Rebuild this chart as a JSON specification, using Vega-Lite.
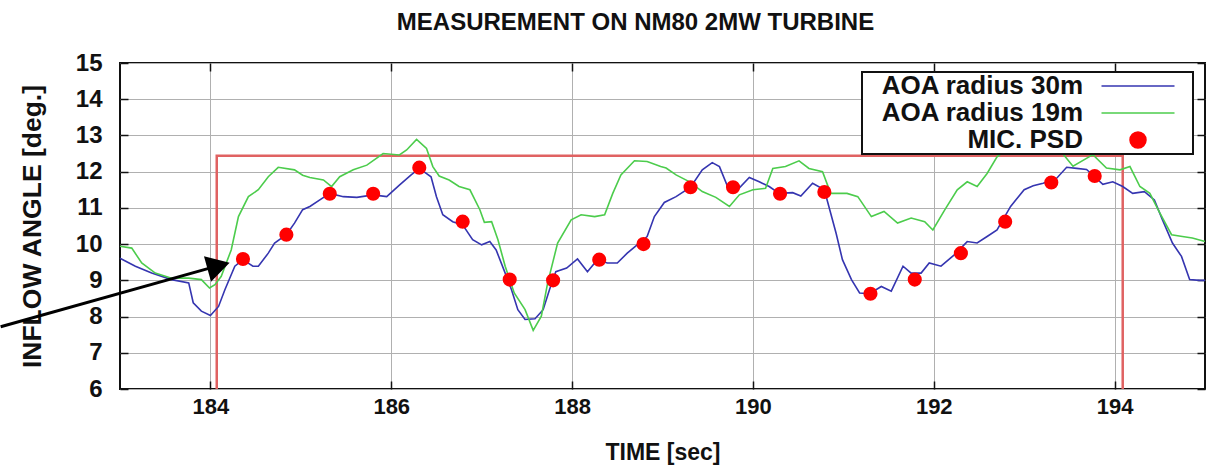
{
  "$schema": "https://vega.github.io/schema/vega-lite/v6.json",
  "width": 1085,
  "height": 326,
  "autosize": {"type": "none"},
  "padding": {"left": 120, "top": 63, "right": 11, "bottom": 80},
  "background": "white",
  "title": {"text": "MEASUREMENT ON NM80 2MW TURBINE", "font": "Liberation Sans", "fontSize": 24, "fontWeight": "bold", "color": "#111", "offset": 16, "dx": -27},
  "config": {
    "view": {"stroke": "#111", "strokeWidth": 2},
    "axis": {"labelFont": "Liberation Sans", "labelFontWeight": "bold", "labelFontSize": 22, "labelColor": "#111", "titleFont": "Liberation Sans", "titleFontWeight": "bold", "titleColor": "#111", "domain": false, "tickColor": "#111", "tickWidth": 1.5, "gridColor": "#b0b0b0", "gridWidth": 1}
  },
  "datasets": {
    "box": [{"o": 1, "t": 184.07, "v": 6}, {"o": 2, "t": 184.07, "v": 12.44}, {"o": 3, "t": 194.09, "v": 12.44}, {"o": 4, "t": 194.09, "v": 6}],
    "arrow": [{"t": 181.68, "v": 7.72}, {"t": 184.08, "v": 9.4}],
    "head": [{"t": 184.09, "v": 9.4}],
    "psd": [
      {"series": "MIC. PSD", "t": 184.36, "v": 9.59}, {"series": "MIC. PSD", "t": 184.84, "v": 10.26},
      {"series": "MIC. PSD", "t": 185.32, "v": 11.39}, {"series": "MIC. PSD", "t": 185.8, "v": 11.39},
      {"series": "MIC. PSD", "t": 186.31, "v": 12.11}, {"series": "MIC. PSD", "t": 186.79, "v": 10.62},
      {"series": "MIC. PSD", "t": 187.31, "v": 9.02}, {"series": "MIC. PSD", "t": 187.79, "v": 9.0},
      {"series": "MIC. PSD", "t": 188.3, "v": 9.57}, {"series": "MIC. PSD", "t": 188.79, "v": 10.0},
      {"series": "MIC. PSD", "t": 189.31, "v": 11.57}, {"series": "MIC. PSD", "t": 189.78, "v": 11.57},
      {"series": "MIC. PSD", "t": 190.3, "v": 11.39}, {"series": "MIC. PSD", "t": 190.79, "v": 11.44},
      {"series": "MIC. PSD", "t": 191.3, "v": 8.63}, {"series": "MIC. PSD", "t": 191.79, "v": 9.02},
      {"series": "MIC. PSD", "t": 192.3, "v": 9.75}, {"series": "MIC. PSD", "t": 192.79, "v": 10.62},
      {"series": "MIC. PSD", "t": 193.3, "v": 11.7}, {"series": "MIC. PSD", "t": 193.78, "v": 11.88}
    ],
    "lines": [
      {"series": "AOA radius 30m", "t": 183.0, "v": 9.61}, {"series": "AOA radius 30m", "t": 183.17, "v": 9.39},
      {"series": "AOA radius 30m", "t": 183.35, "v": 9.2}, {"series": "AOA radius 30m", "t": 183.57, "v": 9.02},
      {"series": "AOA radius 30m", "t": 183.76, "v": 8.93}, {"series": "AOA radius 30m", "t": 183.81, "v": 8.38},
      {"series": "AOA radius 30m", "t": 183.9, "v": 8.15}, {"series": "AOA radius 30m", "t": 184.0, "v": 8.03},
      {"series": "AOA radius 30m", "t": 184.09, "v": 8.28}, {"series": "AOA radius 30m", "t": 184.16, "v": 8.74},
      {"series": "AOA radius 30m", "t": 184.27, "v": 9.39}, {"series": "AOA radius 30m", "t": 184.36, "v": 9.57},
      {"series": "AOA radius 30m", "t": 184.47, "v": 9.39}, {"series": "AOA radius 30m", "t": 184.53, "v": 9.39},
      {"series": "AOA radius 30m", "t": 184.64, "v": 9.75}, {"series": "AOA radius 30m", "t": 184.71, "v": 10.03},
      {"series": "AOA radius 30m", "t": 184.84, "v": 10.26}, {"series": "AOA radius 30m", "t": 184.93, "v": 10.58},
      {"series": "AOA radius 30m", "t": 185.02, "v": 10.95}, {"series": "AOA radius 30m", "t": 185.1, "v": 11.04},
      {"series": "AOA radius 30m", "t": 185.21, "v": 11.22}, {"series": "AOA radius 30m", "t": 185.32, "v": 11.4},
      {"series": "AOA radius 30m", "t": 185.47, "v": 11.31}, {"series": "AOA radius 30m", "t": 185.62, "v": 11.29},
      {"series": "AOA radius 30m", "t": 185.8, "v": 11.36}, {"series": "AOA radius 30m", "t": 185.95, "v": 11.31},
      {"series": "AOA radius 30m", "t": 186.09, "v": 11.63}, {"series": "AOA radius 30m", "t": 186.22, "v": 11.91},
      {"series": "AOA radius 30m", "t": 186.31, "v": 12.09}, {"series": "AOA radius 30m", "t": 186.44, "v": 11.86},
      {"series": "AOA radius 30m", "t": 186.5, "v": 11.31}, {"series": "AOA radius 30m", "t": 186.57, "v": 10.81},
      {"series": "AOA radius 30m", "t": 186.68, "v": 10.62}, {"series": "AOA radius 30m", "t": 186.79, "v": 10.53},
      {"series": "AOA radius 30m", "t": 186.9, "v": 10.12}, {"series": "AOA radius 30m", "t": 187.0, "v": 9.98},
      {"series": "AOA radius 30m", "t": 187.09, "v": 10.07}, {"series": "AOA radius 30m", "t": 187.16, "v": 9.84},
      {"series": "AOA radius 30m", "t": 187.26, "v": 9.2}, {"series": "AOA radius 30m", "t": 187.33, "v": 8.74},
      {"series": "AOA radius 30m", "t": 187.4, "v": 8.19}, {"series": "AOA radius 30m", "t": 187.48, "v": 7.92},
      {"series": "AOA radius 30m", "t": 187.59, "v": 7.94}, {"series": "AOA radius 30m", "t": 187.68, "v": 8.19},
      {"series": "AOA radius 30m", "t": 187.75, "v": 8.74}, {"series": "AOA radius 30m", "t": 187.82, "v": 9.24},
      {"series": "AOA radius 30m", "t": 187.94, "v": 9.34}, {"series": "AOA radius 30m", "t": 188.06, "v": 9.59},
      {"series": "AOA radius 30m", "t": 188.17, "v": 9.24}, {"series": "AOA radius 30m", "t": 188.28, "v": 9.57},
      {"series": "AOA radius 30m", "t": 188.39, "v": 9.48}, {"series": "AOA radius 30m", "t": 188.5, "v": 9.48},
      {"series": "AOA radius 30m", "t": 188.61, "v": 9.75}, {"series": "AOA radius 30m", "t": 188.72, "v": 9.98},
      {"series": "AOA radius 30m", "t": 188.83, "v": 10.21}, {"series": "AOA radius 30m", "t": 188.91, "v": 10.76},
      {"series": "AOA radius 30m", "t": 189.02, "v": 11.15}, {"series": "AOA radius 30m", "t": 189.15, "v": 11.31},
      {"series": "AOA radius 30m", "t": 189.31, "v": 11.57}, {"series": "AOA radius 30m", "t": 189.44, "v": 12.05},
      {"series": "AOA radius 30m", "t": 189.55, "v": 12.25}, {"series": "AOA radius 30m", "t": 189.63, "v": 12.14},
      {"series": "AOA radius 30m", "t": 189.72, "v": 11.59}, {"series": "AOA radius 30m", "t": 189.83, "v": 11.5},
      {"series": "AOA radius 30m", "t": 189.96, "v": 11.84}, {"series": "AOA radius 30m", "t": 190.07, "v": 11.72},
      {"series": "AOA radius 30m", "t": 190.18, "v": 11.59}, {"series": "AOA radius 30m", "t": 190.29, "v": 11.4},
      {"series": "AOA radius 30m", "t": 190.44, "v": 11.42}, {"series": "AOA radius 30m", "t": 190.53, "v": 11.33},
      {"series": "AOA radius 30m", "t": 190.66, "v": 11.68}, {"series": "AOA radius 30m", "t": 190.79, "v": 11.5},
      {"series": "AOA radius 30m", "t": 190.84, "v": 11.04}, {"series": "AOA radius 30m", "t": 190.92, "v": 10.3},
      {"series": "AOA radius 30m", "t": 190.99, "v": 9.57}, {"series": "AOA radius 30m", "t": 191.09, "v": 9.02},
      {"series": "AOA radius 30m", "t": 191.18, "v": 8.65}, {"series": "AOA radius 30m", "t": 191.29, "v": 8.63},
      {"series": "AOA radius 30m", "t": 191.42, "v": 8.83}, {"series": "AOA radius 30m", "t": 191.53, "v": 8.7},
      {"series": "AOA radius 30m", "t": 191.66, "v": 9.39}, {"series": "AOA radius 30m", "t": 191.75, "v": 9.2},
      {"series": "AOA radius 30m", "t": 191.86, "v": 9.2}, {"series": "AOA radius 30m", "t": 191.95, "v": 9.48},
      {"series": "AOA radius 30m", "t": 192.08, "v": 9.39}, {"series": "AOA radius 30m", "t": 192.23, "v": 9.71},
      {"series": "AOA radius 30m", "t": 192.37, "v": 10.07}, {"series": "AOA radius 30m", "t": 192.48, "v": 10.03},
      {"series": "AOA radius 30m", "t": 192.59, "v": 10.21}, {"series": "AOA radius 30m", "t": 192.7, "v": 10.39},
      {"series": "AOA radius 30m", "t": 192.85, "v": 11.04}, {"series": "AOA radius 30m", "t": 193.0, "v": 11.5},
      {"series": "AOA radius 30m", "t": 193.1, "v": 11.61}, {"series": "AOA radius 30m", "t": 193.21, "v": 11.68},
      {"series": "AOA radius 30m", "t": 193.36, "v": 11.82}, {"series": "AOA radius 30m", "t": 193.47, "v": 12.12},
      {"series": "AOA radius 30m", "t": 193.58, "v": 12.09}, {"series": "AOA radius 30m", "t": 193.69, "v": 12.06},
      {"series": "AOA radius 30m", "t": 193.78, "v": 11.86}, {"series": "AOA radius 30m", "t": 193.87, "v": 11.65},
      {"series": "AOA radius 30m", "t": 193.98, "v": 11.72}, {"series": "AOA radius 30m", "t": 194.09, "v": 11.59},
      {"series": "AOA radius 30m", "t": 194.2, "v": 11.4}, {"series": "AOA radius 30m", "t": 194.33, "v": 11.45},
      {"series": "AOA radius 30m", "t": 194.44, "v": 11.22}, {"series": "AOA radius 30m", "t": 194.53, "v": 10.67},
      {"series": "AOA radius 30m", "t": 194.64, "v": 10.03}, {"series": "AOA radius 30m", "t": 194.74, "v": 9.66},
      {"series": "AOA radius 30m", "t": 194.83, "v": 9.02}, {"series": "AOA radius 30m", "t": 194.94, "v": 9.0},
      {"series": "AOA radius 30m", "t": 195.0, "v": 9.0},
      {"series": "AOA radius 19m", "t": 183.0, "v": 9.94}, {"series": "AOA radius 19m", "t": 183.13, "v": 9.89},
      {"series": "AOA radius 19m", "t": 183.24, "v": 9.48}, {"series": "AOA radius 19m", "t": 183.39, "v": 9.2},
      {"series": "AOA radius 19m", "t": 183.57, "v": 9.06}, {"series": "AOA radius 19m", "t": 183.76, "v": 9.06},
      {"series": "AOA radius 19m", "t": 183.9, "v": 9.02}, {"series": "AOA radius 19m", "t": 183.99, "v": 8.79},
      {"series": "AOA radius 19m", "t": 184.05, "v": 8.88}, {"series": "AOA radius 19m", "t": 184.12, "v": 9.11},
      {"series": "AOA radius 19m", "t": 184.23, "v": 9.84}, {"series": "AOA radius 19m", "t": 184.31, "v": 10.76},
      {"series": "AOA radius 19m", "t": 184.42, "v": 11.31}, {"series": "AOA radius 19m", "t": 184.53, "v": 11.5},
      {"series": "AOA radius 19m", "t": 184.64, "v": 11.86}, {"series": "AOA radius 19m", "t": 184.75, "v": 12.12},
      {"series": "AOA radius 19m", "t": 184.93, "v": 12.05}, {"series": "AOA radius 19m", "t": 185.02, "v": 11.9},
      {"series": "AOA radius 19m", "t": 185.1, "v": 11.84}, {"series": "AOA radius 19m", "t": 185.25, "v": 11.77},
      {"series": "AOA radius 19m", "t": 185.34, "v": 11.59}, {"series": "AOA radius 19m", "t": 185.43, "v": 11.86},
      {"series": "AOA radius 19m", "t": 185.58, "v": 12.05}, {"series": "AOA radius 19m", "t": 185.73, "v": 12.18},
      {"series": "AOA radius 19m", "t": 185.91, "v": 12.5}, {"series": "AOA radius 19m", "t": 186.09, "v": 12.46},
      {"series": "AOA radius 19m", "t": 186.17, "v": 12.6}, {"series": "AOA radius 19m", "t": 186.28, "v": 12.89},
      {"series": "AOA radius 19m", "t": 186.39, "v": 12.64}, {"series": "AOA radius 19m", "t": 186.46, "v": 12.14},
      {"series": "AOA radius 19m", "t": 186.53, "v": 11.88}, {"series": "AOA radius 19m", "t": 186.64, "v": 11.77},
      {"series": "AOA radius 19m", "t": 186.75, "v": 11.59}, {"series": "AOA radius 19m", "t": 186.87, "v": 11.5},
      {"series": "AOA radius 19m", "t": 186.98, "v": 10.95}, {"series": "AOA radius 19m", "t": 187.03, "v": 10.6},
      {"series": "AOA radius 19m", "t": 187.11, "v": 10.62}, {"series": "AOA radius 19m", "t": 187.18, "v": 10.12},
      {"series": "AOA radius 19m", "t": 187.26, "v": 9.39}, {"series": "AOA radius 19m", "t": 187.36, "v": 8.65},
      {"series": "AOA radius 19m", "t": 187.48, "v": 8.19}, {"series": "AOA radius 19m", "t": 187.57, "v": 7.62},
      {"series": "AOA radius 19m", "t": 187.66, "v": 8.01}, {"series": "AOA radius 19m", "t": 187.73, "v": 8.93},
      {"series": "AOA radius 19m", "t": 187.84, "v": 10.03}, {"series": "AOA radius 19m", "t": 187.99, "v": 10.67},
      {"series": "AOA radius 19m", "t": 188.1, "v": 10.81}, {"series": "AOA radius 19m", "t": 188.25, "v": 10.76},
      {"series": "AOA radius 19m", "t": 188.36, "v": 10.81}, {"series": "AOA radius 19m", "t": 188.45, "v": 11.4},
      {"series": "AOA radius 19m", "t": 188.54, "v": 11.91}, {"series": "AOA radius 19m", "t": 188.69, "v": 12.3},
      {"series": "AOA radius 19m", "t": 188.83, "v": 12.28}, {"series": "AOA radius 19m", "t": 188.98, "v": 12.14},
      {"series": "AOA radius 19m", "t": 189.04, "v": 12.1}, {"series": "AOA radius 19m", "t": 189.15, "v": 11.91},
      {"series": "AOA radius 19m", "t": 189.3, "v": 11.72}, {"series": "AOA radius 19m", "t": 189.44, "v": 11.45},
      {"series": "AOA radius 19m", "t": 189.59, "v": 11.29}, {"series": "AOA radius 19m", "t": 189.74, "v": 11.04},
      {"series": "AOA radius 19m", "t": 189.85, "v": 11.36}, {"series": "AOA radius 19m", "t": 190.0, "v": 11.5},
      {"series": "AOA radius 19m", "t": 190.14, "v": 11.54}, {"series": "AOA radius 19m", "t": 190.22, "v": 12.09},
      {"series": "AOA radius 19m", "t": 190.36, "v": 12.14}, {"series": "AOA radius 19m", "t": 190.51, "v": 12.3},
      {"series": "AOA radius 19m", "t": 190.62, "v": 12.09}, {"series": "AOA radius 19m", "t": 190.77, "v": 12.0},
      {"series": "AOA radius 19m", "t": 190.86, "v": 11.4}, {"series": "AOA radius 19m", "t": 191.04, "v": 11.4},
      {"series": "AOA radius 19m", "t": 191.16, "v": 11.31}, {"series": "AOA radius 19m", "t": 191.31, "v": 10.76},
      {"series": "AOA radius 19m", "t": 191.45, "v": 10.9}, {"series": "AOA radius 19m", "t": 191.6, "v": 10.58},
      {"series": "AOA radius 19m", "t": 191.75, "v": 10.72}, {"series": "AOA radius 19m", "t": 191.9, "v": 10.62},
      {"series": "AOA radius 19m", "t": 191.99, "v": 10.39}, {"series": "AOA radius 19m", "t": 192.12, "v": 10.94},
      {"series": "AOA radius 19m", "t": 192.26, "v": 11.5}, {"series": "AOA radius 19m", "t": 192.37, "v": 11.72},
      {"series": "AOA radius 19m", "t": 192.48, "v": 11.59}, {"series": "AOA radius 19m", "t": 192.59, "v": 11.95},
      {"series": "AOA radius 19m", "t": 192.7, "v": 12.41}, {"series": "AOA radius 19m", "t": 192.85, "v": 12.69},
      {"series": "AOA radius 19m", "t": 193.05, "v": 13.06}, {"series": "AOA radius 19m", "t": 193.2, "v": 13.1},
      {"series": "AOA radius 19m", "t": 193.36, "v": 12.7}, {"series": "AOA radius 19m", "t": 193.54, "v": 12.15},
      {"series": "AOA radius 19m", "t": 193.76, "v": 12.47}, {"series": "AOA radius 19m", "t": 193.91, "v": 12.1},
      {"series": "AOA radius 19m", "t": 194.06, "v": 12.05}, {"series": "AOA radius 19m", "t": 194.17, "v": 12.14},
      {"series": "AOA radius 19m", "t": 194.28, "v": 11.59}, {"series": "AOA radius 19m", "t": 194.39, "v": 11.4},
      {"series": "AOA radius 19m", "t": 194.5, "v": 10.86}, {"series": "AOA radius 19m", "t": 194.63, "v": 10.26},
      {"series": "AOA radius 19m", "t": 194.75, "v": 10.21}, {"series": "AOA radius 19m", "t": 194.86, "v": 10.17},
      {"series": "AOA radius 19m", "t": 195.0, "v": 10.07}
    ]
  },
  "layer": [
    {
      "data": {"name": "box"},
      "mark": {"type": "line", "color": "#e06262", "strokeWidth": 2.5},
      "encoding": {
        "x": {"field": "t", "type": "quantitative", "scale": {"domain": [183, 195], "nice": false, "zero": false},
              "axis": {"orient": "bottom", "values": [184, 186, 188, 190, 192, 194], "title": "TIME [sec]", "titleFontSize": 23, "titlePadding": 24, "tickSize": -8, "labelPadding": 15, "grid": true}},
        "y": {"field": "v", "type": "quantitative", "scale": {"domain": [6, 15], "nice": false, "zero": false},
              "axis": {"orient": "left", "values": [6, 7, 8, 9, 10, 11, 12, 13, 14, 15], "title": "INFLOW ANGLE [deg.]", "titleFontSize": 26.5, "titlePadding": 29, "tickSize": -8, "labelPadding": 26, "labelFontSize": 24, "grid": true}},
        "order": {"field": "o", "type": "quantitative"}
      }
    },
    {
      "data": {"name": "lines"},
      "mark": {"type": "line", "strokeWidth": 1.6},
      "encoding": {
        "x": {"field": "t", "type": "quantitative", "axis": {"orient": "top", "values": [184, 186, 188, 190, 192, 194], "labels": false, "title": null, "grid": false, "tickSize": -8}},
        "y": {"field": "v", "type": "quantitative", "axis": {"orient": "right", "values": [6, 7, 8, 9, 10, 11, 12, 13, 14, 15], "labels": false, "title": null, "grid": false, "tickSize": -8}},
        "color": {"field": "series", "type": "nominal",
          "scale": {"domain": ["AOA radius 30m", "AOA radius 19m", "MIC. PSD"], "range": ["#3535b0", "#4ccc4c", "#ff0000"]},
          "legend": {"title": null, "orient": "none", "legendX": 742, "legendY": 9, "padding": 1,
            "fillColor": "white", "strokeColor": "#111",
            "labelFont": "Liberation Sans", "labelFontSize": 26, "labelFontWeight": "bold", "labelColor": "#111",
            "labelAlign": "right", "labelOffset": -68, "labelLimit": 400, "symbolOffset": 262, "symbolType": "stroke", "symbolSize": 100, "symbolStrokeWidth": 1.5, "rowPadding": 1,
            "encode": {
              "legend": {"update": {"strokeWidth": {"value": 2}}},
              "symbols": {"update": {
              "shape": {"signal": "datum.value === 'MIC. PSD' ? 'M-1.6,0A1.6,1.6,0,1,0,1.6,0A1.6,1.6,0,1,0,-1.6,0Z' : 'M-7.3,0L7.3,0M10.2,0'"},
              "fill": {"signal": "datum.value === 'MIC. PSD' ? '#ff0000' : 'transparent'"},
              "stroke": {"signal": "datum.value === 'MIC. PSD' ? 'transparent' : (datum.value === 'AOA radius 30m' ? '#3535b0' : '#4ccc4c')"},
              "strokeWidth": {"value": 1.5},
              "opacity": {"value": 1}
            }}}
          }}
      }
    },
    {
      "data": {"name": "psd"},
      "mark": {"type": "point", "filled": true, "size": 200, "opacity": 1},
      "encoding": {
        "x": {"field": "t", "type": "quantitative", "axis": null},
        "y": {"field": "v", "type": "quantitative", "axis": null},
        "color": {"field": "series", "type": "nominal", "legend": null}
      }
    },
    {
      "data": {"name": "arrow"},
      "mark": {"type": "line", "color": "#000", "strokeWidth": 3},
      "encoding": {
        "x": {"field": "t", "type": "quantitative", "axis": null},
        "y": {"field": "v", "type": "quantitative", "axis": null}
      }
    },
    {
      "data": {"name": "head"},
      "mark": {"type": "point", "shape": "triangle-right", "filled": true, "color": "#000", "opacity": 1, "size": 700, "angle": 344.5},
      "encoding": {
        "x": {"field": "t", "type": "quantitative", "axis": null},
        "y": {"field": "v", "type": "quantitative", "axis": null}
      }
    }
  ],
  "resolve": {"axis": {"x": "independent", "y": "independent"}}
}
